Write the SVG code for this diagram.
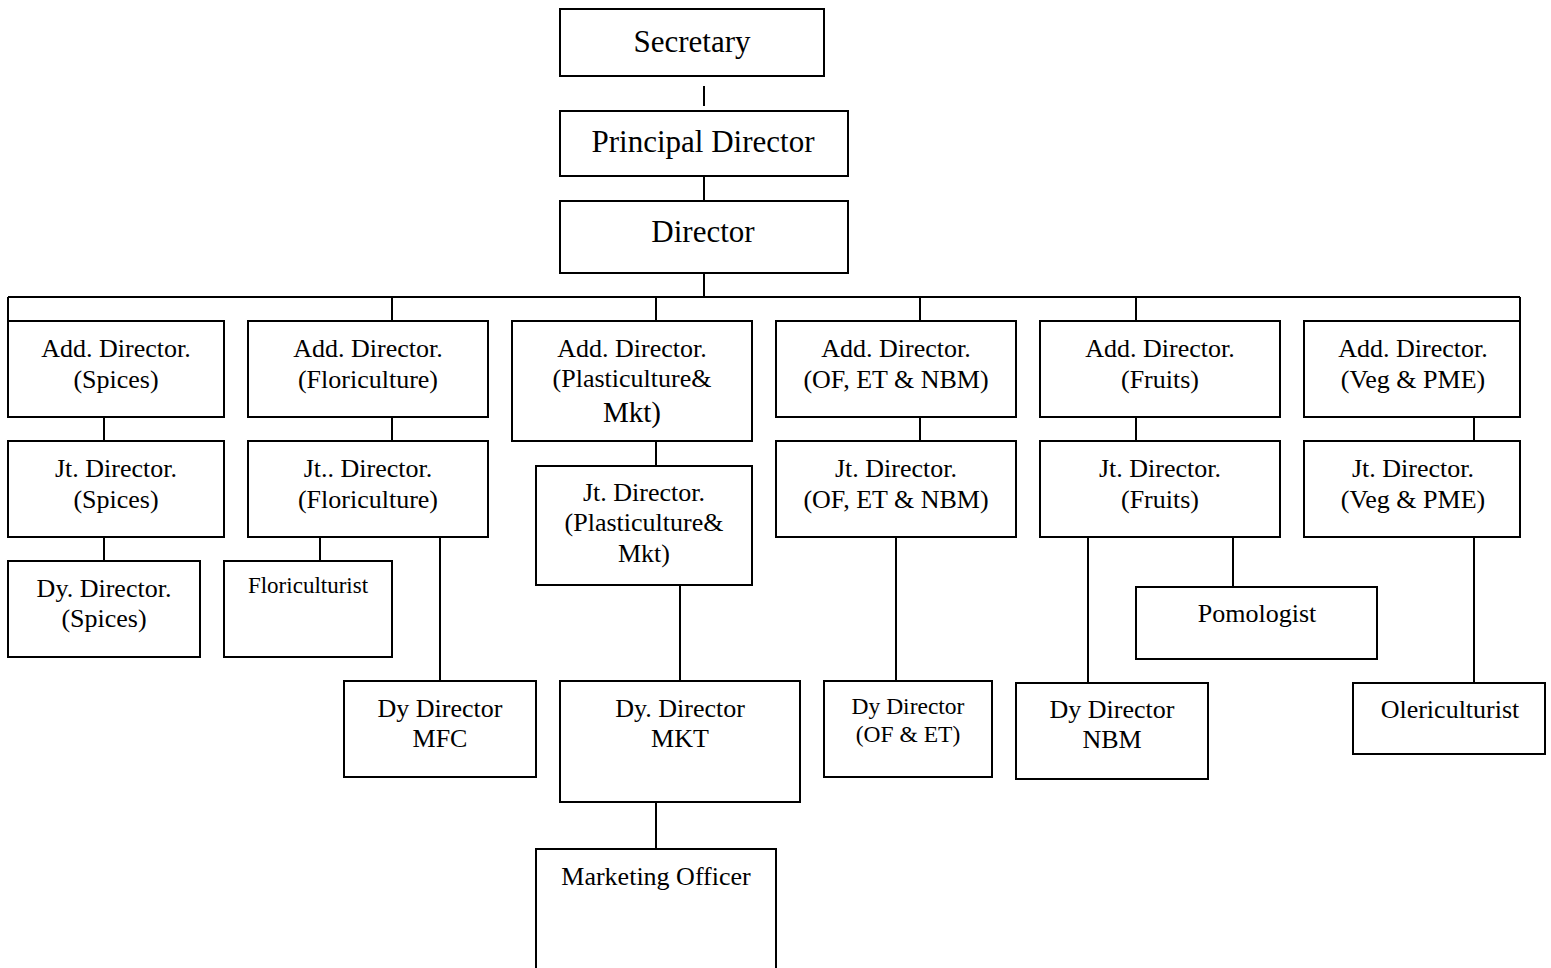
<svg xmlns="http://www.w3.org/2000/svg" width="1551" height="968" viewBox="0 0 1551 968">
<style>
.box{fill:#fff;stroke:#000;stroke-width:2}
.ln{stroke:#000;stroke-width:2;fill:none}
text{font-family:"Liberation Serif","Times New Roman",serif;fill:#000;text-anchor:middle}
.big{font-size:31px}
.t{font-size:26px}
.s{font-size:23px}
.m{font-size:23.5px}
</style>
<rect width="1551" height="968" fill="#fff"/>
<g id="connectors">
<line class="ln" x1="704" y1="86" x2="704" y2="106"/>
<line class="ln" x1="704" y1="176" x2="704" y2="201"/>
<line class="ln" x1="704" y1="273" x2="704" y2="297"/>
<line class="ln" x1="8" y1="297" x2="1520" y2="297"/>
<line class="ln" x1="8" y1="297" x2="8" y2="321"/>
<line class="ln" x1="392" y1="297" x2="392" y2="321"/>
<line class="ln" x1="656" y1="297" x2="656" y2="321"/>
<line class="ln" x1="920" y1="297" x2="920" y2="321"/>
<line class="ln" x1="1136" y1="297" x2="1136" y2="321"/>
<line class="ln" x1="1520" y1="297" x2="1520" y2="321"/>
<line class="ln" x1="104" y1="417" x2="104" y2="441"/>
<line class="ln" x1="104" y1="537" x2="104" y2="561"/>
<line class="ln" x1="392" y1="417" x2="392" y2="441"/>
<line class="ln" x1="320" y1="537" x2="320" y2="561"/>
<line class="ln" x1="440" y1="537" x2="440" y2="681"/>
<line class="ln" x1="656" y1="441" x2="656" y2="466"/>
<line class="ln" x1="680" y1="585" x2="680" y2="681"/>
<line class="ln" x1="656" y1="802" x2="656" y2="849"/>
<line class="ln" x1="920" y1="417" x2="920" y2="441"/>
<line class="ln" x1="896" y1="537" x2="896" y2="681"/>
<line class="ln" x1="1136" y1="417" x2="1136" y2="441"/>
<line class="ln" x1="1088" y1="537" x2="1088" y2="683"/>
<line class="ln" x1="1233" y1="537" x2="1233" y2="587"/>
<line class="ln" x1="1474" y1="417" x2="1474" y2="441"/>
<line class="ln" x1="1474" y1="537" x2="1474" y2="683"/>
</g>
<g id="secretary"><rect class="box" x="560" y="9" width="264" height="67"/><text class="big" x="692" y="52">Secretary</text></g>
<g id="principal-director"><rect class="box" x="560" y="111" width="288" height="65"/><text class="big" x="703" y="152">Principal Director</text></g>
<g id="director"><rect class="box" x="560" y="201" width="288" height="72"/><text class="big" x="703" y="242">Director</text></g>

<g id="add-spices"><rect class="box" x="8" y="321" width="216" height="96"/><text class="t" x="116" y="357">Add. Director.</text><text class="t" x="116" y="388">(Spices)</text></g>
<g id="add-floriculture"><rect class="box" x="248" y="321" width="240" height="96"/><text class="t" x="368" y="357">Add. Director.</text><text class="t" x="368" y="388">(Floriculture)</text></g>
<g id="add-plasticulture"><rect class="box" x="512" y="321" width="240" height="120"/><text class="t" x="632" y="357">Add. Director.</text><text class="t" x="632" y="387">(Plasticulture&amp;</text><text x="632" y="422" style="font-size:29px">Mkt)</text></g>
<g id="add-of"><rect class="box" x="776" y="321" width="240" height="96"/><text class="t" x="896" y="357">Add. Director.</text><text class="t" x="896" y="388">(OF, ET &amp; NBM)</text></g>
<g id="add-fruits"><rect class="box" x="1040" y="321" width="240" height="96"/><text class="t" x="1160" y="357">Add. Director.</text><text class="t" x="1160" y="388">(Fruits)</text></g>
<g id="add-veg"><rect class="box" x="1304" y="321" width="216" height="96"/><text class="t" x="1413" y="357">Add. Director.</text><text class="t" x="1413" y="388">(Veg &amp; PME)</text></g>

<g id="jt-spices"><rect class="box" x="8" y="441" width="216" height="96"/><text class="t" x="116" y="477">Jt. Director.</text><text class="t" x="116" y="508">(Spices)</text></g>
<g id="jt-floriculture"><rect class="box" x="248" y="441" width="240" height="96"/><text class="t" x="368" y="477">Jt.. Director.</text><text class="t" x="368" y="508">(Floriculture)</text></g>
<g id="jt-plasticulture"><rect class="box" x="536" y="466" width="216" height="119"/><text class="t" x="644" y="501">Jt. Director.</text><text class="t" x="644" y="531">(Plasticulture&amp;</text><text class="t" x="644" y="562">Mkt)</text></g>
<g id="jt-of"><rect class="box" x="776" y="441" width="240" height="96"/><text class="t" x="896" y="477">Jt. Director.</text><text class="t" x="896" y="508">(OF, ET &amp; NBM)</text></g>
<g id="jt-fruits"><rect class="box" x="1040" y="441" width="240" height="96"/><text class="t" x="1160" y="477">Jt. Director.</text><text class="t" x="1160" y="508">(Fruits)</text></g>
<g id="jt-veg"><rect class="box" x="1304" y="441" width="216" height="96"/><text class="t" x="1413" y="477">Jt. Director.</text><text class="t" x="1413" y="508">(Veg &amp; PME)</text></g>

<g id="dy-spices"><rect class="box" x="8" y="561" width="192" height="96"/><text class="t" x="104" y="597">Dy. Director.</text><text class="t" x="104" y="627">(Spices)</text></g>
<g id="floriculturist"><rect class="box" x="224" y="561" width="168" height="96"/><text class="s" x="308" y="593">Floriculturist</text></g>
<g id="pomologist"><rect class="box" x="1136" y="587" width="241" height="72"/><text class="t" x="1257" y="622">Pomologist</text></g>

<g id="dy-mfc"><rect class="box" x="344" y="681" width="192" height="96"/><text class="t" x="440" y="717">Dy Director</text><text class="t" x="440" y="747">MFC</text></g>
<g id="dy-mkt"><rect class="box" x="560" y="681" width="240" height="121"/><text class="t" x="680" y="717">Dy. Director</text><text class="t" x="680" y="747">MKT</text></g>
<g id="dy-of-et"><rect class="box" x="824" y="681" width="168" height="96"/><text class="m" x="908" y="714">Dy Director</text><text class="m" x="908" y="742">(OF &amp; ET)</text></g>
<g id="dy-nbm"><rect class="box" x="1016" y="683" width="192" height="96"/><text class="t" x="1112" y="718">Dy Director</text><text class="t" x="1112" y="748">NBM</text></g>
<g id="olericulturist"><rect class="box" x="1353" y="683" width="192" height="71"/><text class="t" x="1450" y="718">Olericulturist</text></g>
<g id="marketing-officer"><rect class="box" x="536" y="849" width="240" height="140"/><text class="t" x="656" y="885">Marketing Officer</text></g>
</svg>
